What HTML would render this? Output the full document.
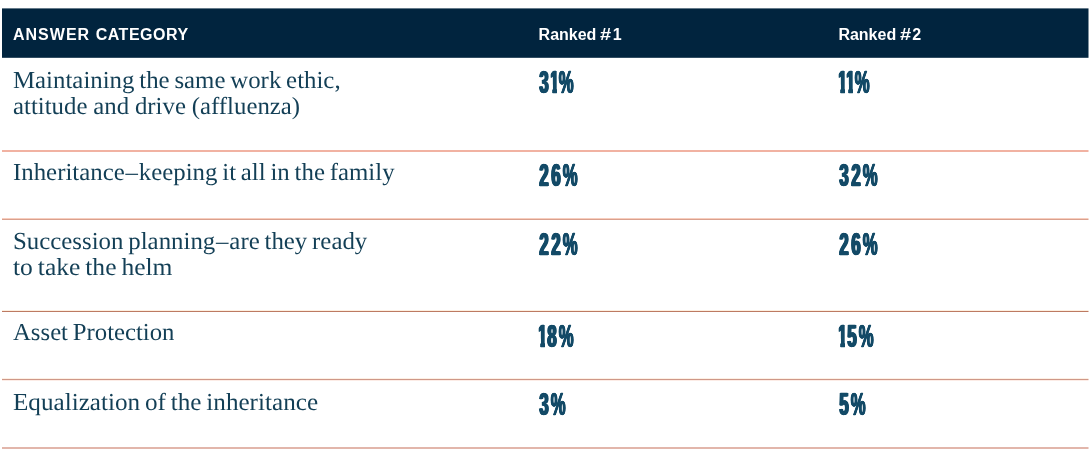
<!DOCTYPE html>
<html>
<head>
<meta charset="utf-8">
<title>Answer Category</title>
<style>
html,body{margin:0;padding:0;background:#fff;}
body{width:1090px;height:453px;position:relative;overflow:hidden;}
svg.bg{position:absolute;left:0;top:0;}
.t{position:absolute;white-space:nowrap;line-height:1;margin:0;}
.h{font-family:"Liberation Sans",sans-serif;font-weight:bold;font-size:16px;color:#fff;top:27px;}
.hs{display:inline-block;transform:scaleX(1.25);transform-origin:0 50%;}
.ds{margin:0 0.8px;}
.c{font-family:"Liberation Serif",serif;text-rendering:geometricPrecision;font-size:24.4px;color:#133f56;word-spacing:-1.4px;line-height:26px;transform-origin:0 0;}
.n{font-family:"Liberation Sans",sans-serif;font-weight:bold;font-size:32.0px;color:#134a67;transform-origin:0 0;transform:scaleX(0.52);-webkit-text-stroke:0.3px #134a67;text-shadow:1.6px 0 0 #134a67,-1.6px 0 0 #134a67,0.8px 0 0 #134a67,-0.8px 0 0 #134a67;}
.n span{display:inline-block;width:23.08px;text-align:center;}
.n span.o{width:15.38px;text-align:left;text-indent:-0.53px;clip-path:polygon(1.15px -5px,13.08px -5px,13.08px 45px,5.19px 45px,5.19px 18.34px,1.15px 18.34px);}
.n span.p{width:auto;text-align:left;margin-left:1.51px;text-shadow:1px 0 0 #134a67,-1px 0 0 #134a67,0.5px 0 0 #134a67,-0.5px 0 0 #134a67;}

</style>
</head>
<body>
<svg class="bg" width="1090" height="453" viewBox="0 0 1090 453">
<rect x="2" y="8.4" width="1086.5" height="49.4" fill="#01243e"/>
<rect x="2" y="150" width="1086.5" height="2" fill="#f1b2a2"/>
<rect x="2" y="218" width="1086.5" height="1" fill="#f8cdbd"/>
<rect x="2" y="219" width="1086.5" height="1" fill="#d9a08e"/>
<rect x="2" y="310" width="1086.5" height="1" fill="#fdefe0"/>
<rect x="2" y="311" width="1086.5" height="1" fill="#bd7a62"/>
<rect x="2" y="378" width="1086.5" height="1" fill="#fdf0e4"/>
<rect x="2" y="379" width="1086.5" height="1" fill="#cf9888"/>
<rect x="2" y="380" width="1086.5" height="1" fill="#fcece6"/>
<rect x="2" y="447" width="1086.5" height="2" fill="#e2b6ab"/>
</svg>
<div class="t h" style="left:13px;letter-spacing:1px;">ANSWER</div>
<div class="t h" style="left:95.7px;letter-spacing:0.5px;">CATEGORY</div>
<div class="t h" style="left:538.6px;">Ranked</div>
<div class="t h" style="left:600.3px;"><span class="hs">#</span><span style="margin-left:3.5px">1</span></div>
<div class="t h" style="left:838.4px;">Ranked</div>
<div class="t h" style="left:900.1px;"><span class="hs">#</span><span style="margin-left:3.25px">2</span></div>
<div class="t c" style="left:13.20px;top:67.77px;transform:scaleX(1.0188);">Maintaining the same work ethic,</div>
<div class="t c" style="left:13.20px;top:93.86px;word-spacing:-0.4px;transform:scaleX(1.0178);">attitude and drive (affluenza)</div>
<div class="t c" style="left:13.30px;top:160.17px;transform:scaleX(1.0187);">Inheritance<span class="ds">–</span>keeping it all in the family</div>
<div class="t c" style="left:13.30px;top:228.96px;transform:scaleX(1.0193);">Succession planning<span class="ds">–</span>are they ready</div>
<div class="t c" style="left:13.40px;top:255.16px;transform:scaleX(1.0474);">to take the helm</div>
<div class="t c" style="left:13.00px;top:320.16px;transform:scaleX(1.0146);">Asset Protection</div>
<div class="t c" style="left:13.30px;top:389.76px;transform:scaleX(1.0312);">Equalization of the inheritance</div>
<div class="t n" style="left:537.80px;top:66.21px;"><span>3</span><span class="o">1</span><span class="p">%</span></div>
<div class="t n" style="left:837.80px;top:66.21px;"><span class="o">1</span><span class="o">1</span><span class="p">%</span></div>
<div class="t n" style="left:537.80px;top:159.11px;"><span>2</span><span>6</span><span class="p">%</span></div>
<div class="t n" style="left:837.80px;top:159.11px;"><span>3</span><span>2</span><span class="p">%</span></div>
<div class="t n" style="left:537.80px;top:228.21px;"><span>2</span><span>2</span><span class="p">%</span></div>
<div class="t n" style="left:837.80px;top:228.21px;"><span>2</span><span>6</span><span class="p">%</span></div>
<div class="t n" style="left:537.80px;top:320.21px;"><span class="o">1</span><span>8</span><span class="p">%</span></div>
<div class="t n" style="left:837.80px;top:320.21px;"><span class="o">1</span><span>5</span><span class="p">%</span></div>
<div class="t n" style="left:537.80px;top:388.41px;"><span>3</span><span class="p">%</span></div>
<div class="t n" style="left:837.80px;top:388.41px;"><span>5</span><span class="p">%</span></div>
</body>
</html>
